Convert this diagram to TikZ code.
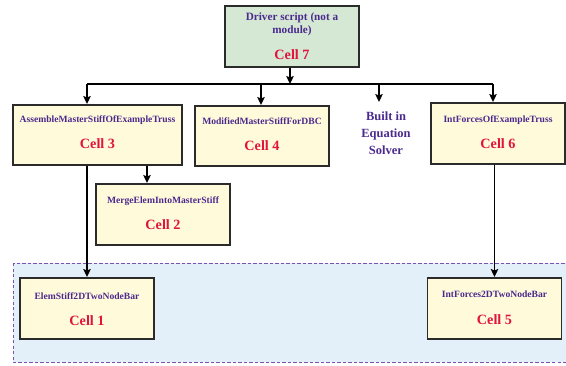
\documentclass[tikz,border=0pt]{standalone}
\usepackage{fontspec}
\setmainfont{Liberation Serif}
\usetikzlibrary{arrows.meta}
\definecolor{boxfill}{HTML}{FFFADA}
\definecolor{greenfill}{HTML}{D5E8D4}
\definecolor{regionfill}{HTML}{E3F0FA}
\definecolor{regiondraw}{HTML}{7B52B2}
\definecolor{namecol}{HTML}{4B2A8E}
\definecolor{cellcol}{HTML}{E0143C}
\definecolor{edgecol}{HTML}{2B2B2B}
\tikzset{
  cellbox/.style={draw=edgecol, line width=1.6pt, fill=boxfill, inner sep=0pt, anchor=north},
  modname/.style={font=\bfseries\fontsize{9.6}{11}\selectfont, text=namecol, inner sep=0pt, anchor=base},
  celltxt/.style={font=\bfseries\fontsize{14.2}{16}\selectfont, text=cellcol, inner sep=0pt, anchor=base},
  drvtxt/.style={font=\bfseries\fontsize{11.2}{13}\selectfont, text=namecol, inner sep=0pt, anchor=base},
  soltxt/.style={font=\bfseries\fontsize{12.5}{17}\selectfont, text=namecol, inner sep=0pt, anchor=base},
  conn/.style={line width=1.5pt, black},
  arr/.style={conn, -{Stealth[length=8pt,width=7.5pt,inset=1.5pt]}},
  region/.style={draw=regiondraw, fill=regionfill, line width=1pt, dash pattern=on 3.3pt off 2.2pt}
}
\newcommand\modulecell[9]{%
  \node[cellbox, minimum width=#4pt, minimum height=#5pt] (#1) at (#2,#3) {};
  \node[modname] (#1n) at (#2,{#3+#7}) {#6};
  \node[celltxt] (#1c) at (#2,{#3+#9}) {#8};
}
\begin{document}
\begin{tikzpicture}[x=1pt,y=-1pt]
\useasboundingbox (0,0) rectangle (566,365);
% dashed region
\path[region] (13,263) rectangle (572,362);
% boxes
\node[cellbox, fill=greenfill, minimum width=134pt, minimum height=61pt] (c7) at (292,5) {};
\node[drvtxt] (c7a) at (292,20) {Driver script (not a};
\node[drvtxt] (c7b) at (292,33.3) {module)};
\node[celltxt] (c7c) at (292,59.3) {Cell 7};
\modulecell{c3}{97.5}{104}{169}{60}{AssembleMasterStiffOfExampleTruss}{18.5}{Cell 3}{44.3}
\modulecell{c4}{262}{105}{134}{60}{ModifiedMasterStiffForDBC}{19}{Cell 4}{45}
\modulecell{c2}{163}{183}{134}{61}{MergeElemIntoMasterStiff}{20.5}{Cell 2}{46.5}
\modulecell{c6}{498}{102}{134}{61}{IntForcesOfExampleTruss}{20}{Cell 6}{46}
\modulecell{c1}{87}{277}{134}{61}{ElemStiff2DTwoNodeBar}{22.5}{Cell 1}{48.5}
\modulecell{c5}{494.5}{277}{134}{61}{IntForces2DTwoNodeBar}{20.5}{Cell 5}{47}
% solver text
\node[soltxt] (sv1) at (386,120) {Built in};
\node[soltxt] (sv2) at (386,137.3) {Equation};
\node[soltxt] (sv3) at (386,154) {Solver};
% connectors
\coordinate (busL) at (87,84);
\coordinate (busR) at (493,84);
\coordinate (svtop) at (379,102);
\draw[conn] (busL) -- (busR);
\draw[arr] ([xshift=-2pt]c7.south) -- ([xshift=-2pt]c7.south |- busL);
\draw[arr] (busL) -- (c3.north -| busL);
\draw[arr] ([xshift=-1pt]c4.north |- busL) -- ([xshift=-1pt]c4.north);
\draw[arr] (svtop |- busL) -- (svtop);
\draw[arr] (busR) -- (c6.north -| busR);
\draw[arr] ([xshift=-16pt]c2.north |- c3.south) -- ([xshift=-16pt]c2.north);
\draw[arr] (c1.north |- c3.south) -- (c1.north);
\draw[arr] (c5.north |- c6.south) -- (c5.north);
\end{tikzpicture}
\end{document}
